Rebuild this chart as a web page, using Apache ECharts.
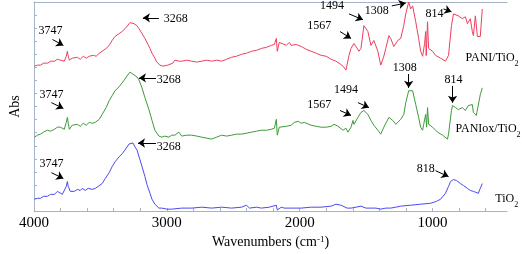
<!DOCTYPE html>
<html><head><meta charset="utf-8">
<script src="https://cdn.jsdelivr.net/npm/echarts@6/dist/echarts.min.js"></script>
<style>html,body{margin:0;padding:0;background:#fff}#c{width:522px;height:254px}</style>
</head><body><div id="c"></div>
<script>
// x: wavenumber (cm-1), y: absorbance (arbitrary, offset spectra)
var redPoints = [[3996,1.109],[3974,1.117],[3951,1.117],[3929,1.132],[3899,1.132],[3876,1.147],[3846,1.147],[3824,1.162],[3801,1.155],[3772,1.147],[3757,1.185],[3749,1.223],[3742,1.185],[3734,1.155],[3712,1.170],[3697,1.155],[3674,1.177],[3652,1.162],[3629,1.185],[3607,1.170],[3584,1.185],[3554,1.192],[3532,1.185],[3509,1.208],[3487,1.223],[3457,1.245],[3434,1.268],[3412,1.306],[3390,1.336],[3360,1.358],[3337,1.374],[3315,1.396],[3300,1.411],[3277,1.442],[3262,1.449],[3247,1.434],[3225,1.419],[3210,1.396],[3187,1.358],[3165,1.321],[3142,1.275],[3127,1.245],[3112,1.208],[3090,1.170],[3075,1.140],[3052,1.117],[3030,1.109],[3015,1.102],[2993,1.117],[2978,1.109],[2955,1.132],[2940,1.155],[2925,1.170],[2910,1.147],[2888,1.147],[2850,1.155],[2813,1.147],[2775,1.140],[2738,1.147],[2700,1.155],[2663,1.147],[2625,1.155],[2588,1.147],[2550,1.162],[2513,1.177],[2476,1.185],[2438,1.200],[2401,1.208],[2363,1.223],[2326,1.230],[2289,1.245],[2251,1.253],[2214,1.268],[2191,1.275],[2176,1.321],[2169,1.223],[2154,1.291],[2139,1.283],[2101,1.268],[2079,1.291],[2064,1.268],[2026,1.275],[1989,1.260],[1951,1.238],[1914,1.223],[1876,1.208],[1839,1.192],[1801,1.185],[1764,1.162],[1727,1.147],[1704,1.132],[1674,1.109],[1652,1.079],[1629,1.192],[1614,1.245],[1592,1.283],[1577,1.298],[1554,1.223],[1539,1.245],[1517,1.419],[1502,1.411],[1487,1.374],[1464,1.268],[1442,1.306],[1412,1.223],[1390,1.117],[1367,1.185],[1352,1.245],[1329,1.343],[1315,1.321],[1292,1.260],[1262,1.306],[1240,1.321],[1217,1.419],[1202,1.509],[1187,1.570],[1180,1.600],[1165,1.547],[1150,1.570],[1127,1.449],[1105,1.321],[1090,1.223],[1075,1.185],[1067,1.170],[1060,1.283],[1052,1.374],[1048,1.190],[1038,1.449],[1030,1.245],[1015,1.230],[1000,1.223],[978,1.192],[940,1.170],[903,1.147],[880,1.192],[858,1.419],[843,1.509],[828,1.494],[806,1.494],[776,1.472],[753,1.487],[738,1.434],[716,1.472],[701,1.374],[693,1.343],[678,1.494],[663,1.336],[641,1.336],[626,1.547]];
var greenPoints = [[3996,0.566],[3974,0.581],[3951,0.589],[3929,0.604],[3899,0.619],[3876,0.611],[3846,0.626],[3824,0.642],[3801,0.642],[3772,0.626],[3757,0.679],[3749,0.717],[3742,0.672],[3734,0.626],[3712,0.657],[3697,0.642],[3674,0.664],[3652,0.649],[3629,0.672],[3607,0.657],[3584,0.679],[3562,0.672],[3539,0.679],[3509,0.702],[3487,0.740],[3457,0.792],[3434,0.845],[3412,0.883],[3390,0.921],[3360,0.951],[3337,0.981],[3315,1.011],[3300,1.034],[3277,1.064],[3262,1.057],[3247,1.042],[3225,1.026],[3210,1.004],[3187,0.943],[3165,0.868],[3135,0.777],[3112,0.694],[3090,0.619],[3060,0.574],[3038,0.566],[3015,0.574],[2985,0.566],[2963,0.581],[2940,0.581],[2910,0.604],[2888,0.574],[2850,0.581],[2813,0.581],[2775,0.574],[2738,0.566],[2700,0.558],[2663,0.551],[2625,0.566],[2588,0.581],[2550,0.574],[2513,0.581],[2476,0.589],[2438,0.589],[2401,0.596],[2363,0.604],[2326,0.611],[2289,0.619],[2251,0.619],[2214,0.626],[2191,0.634],[2176,0.702],[2169,0.581],[2154,0.642],[2139,0.657],[2101,0.649],[2064,0.657],[2041,0.679],[2011,0.687],[1989,0.672],[1966,0.679],[1914,0.657],[1876,0.649],[1839,0.642],[1801,0.642],[1764,0.649],[1742,0.664],[1712,0.649],[1674,0.619],[1652,0.634],[1637,0.604],[1614,0.642],[1599,0.694],[1592,0.664],[1562,0.717],[1539,0.755],[1517,0.770],[1487,0.740],[1464,0.694],[1442,0.657],[1412,0.619],[1390,0.589],[1367,0.642],[1329,0.717],[1300,0.694],[1277,0.664],[1240,0.702],[1217,0.740],[1202,0.830],[1187,0.891],[1180,0.921],[1165,0.906],[1150,0.921],[1127,0.815],[1105,0.717],[1090,0.642],[1075,0.619],[1067,0.664],[1052,0.740],[1045,0.642],[1038,0.792],[1030,0.664],[1000,0.642],[963,0.604],[925,0.581],[888,0.551],[880,0.589],[858,0.770],[850,0.808],[828,0.792],[806,0.777],[776,0.792],[753,0.770],[731,0.808],[701,0.815],[693,0.755],[671,0.732],[656,0.740],[641,0.891],[626,0.943]];
var bluePoints = [[3996,0.091],[3974,0.098],[3951,0.098],[3929,0.113],[3899,0.113],[3876,0.128],[3861,0.136],[3846,0.128],[3824,0.151],[3809,0.143],[3787,0.128],[3772,0.136],[3757,0.189],[3749,0.226],[3742,0.189],[3727,0.151],[3712,0.166],[3697,0.151],[3674,0.166],[3652,0.158],[3637,0.174],[3614,0.158],[3592,0.174],[3562,0.166],[3539,0.174],[3517,0.189],[3487,0.211],[3464,0.249],[3434,0.294],[3412,0.340],[3390,0.377],[3360,0.415],[3337,0.438],[3315,0.468],[3300,0.483],[3285,0.513],[3270,0.528],[3255,0.521],[3240,0.491],[3225,0.468],[3202,0.392],[3187,0.340],[3165,0.264],[3150,0.204],[3127,0.136],[3112,0.091],[3090,0.053],[3075,0.038],[3060,0.023],[3038,0.023],[3000,0.015],[2963,0.015],[2888,0.023],[2813,0.023],[2738,0.030],[2663,0.023],[2588,0.030],[2513,0.023],[2438,0.030],[2401,0.045],[2378,0.023],[2363,0.023],[2326,0.030],[2289,0.023],[2229,0.030],[2176,0.045],[2169,0.008],[2139,0.030],[2116,0.023],[2064,0.023],[1989,0.023],[1914,0.030],[1839,0.030],[1764,0.038],[1727,0.053],[1712,0.068],[1689,0.045],[1674,0.038],[1644,0.023],[1614,0.023],[1577,0.030],[1539,0.038],[1502,0.023],[1464,0.023],[1427,0.023],[1390,0.015],[1352,0.023],[1315,0.023],[1277,0.030],[1240,0.038],[1165,0.045],[1090,0.053],[1015,0.060],[970,0.075],[940,0.091],[903,0.136],[880,0.189],[865,0.226],[850,0.234],[843,0.242],[820,0.234],[791,0.211],[768,0.196],[738,0.174],[716,0.158],[693,0.151],[656,0.136],[641,0.174],[626,0.211]];

var xTickValues = [4000,3800,3600,3400,3200,3000,2800,2600,2400,2200,2000,1800,1600,1400,1200,1000,800,600];
var xLabelValues = [4000,3000,2000,1000];

// peak annotations: label text, label anchor, arrow tail, arrow head (data coordinates)
var redNotes = [
  {t:'3747', at:[3876,1.381], from:[3861,1.313], to:[3779,1.268]},
  {t:'3268', at:[2933,1.472], from:[3060,1.479], to:[3180,1.479]},
  {t:'1567', at:[1854,1.419], from:[1697,1.374], to:[1614,1.321]},
  {t:'1494', at:[1757,1.570], from:[1629,1.509], to:[1524,1.464]},
  {t:'1308', at:[1420,1.532], from:[1307,1.570], to:[1202,1.592]},
  {t:'814',  at:[985,1.509],  from:[918,1.547],  to:[858,1.525]}
];
var greenNotes = [
  {t:'3747', at:[3869,0.891], from:[3869,0.830], to:[3779,0.785]},
  {t:'3268', at:[2985,1.004], from:[3082,1.019], to:[3210,1.019]},
  {t:'1567', at:[1854,0.815], from:[1697,0.770], to:[1614,0.732]},
  {t:'1494', at:[1652,0.928], from:[1562,0.830], to:[1479,0.792]},
  {t:'1308', at:[1210,1.094], from:[1180,1.049], to:[1180,0.943]},
  {t:'814',  at:[843,1.004],  from:[850,0.958],  to:[850,0.830]}
];
var blueNotes = [
  {t:'3747', at:[3869,0.362], from:[3869,0.294], to:[3779,0.249]},
  {t:'3268', at:[2985,0.491], from:[3082,0.521], to:[3217,0.521]},
  {t:'818',  at:[1052,0.325], from:[978,0.309],  to:[880,0.264]}
];
var seriesNames = ['PANI/TiO2','PANIox/TiO2','TiO2'];
var nameLabels = [
  {rich:'{a|PANI/TiO}{s|2}', at:[753,1.170]},
  {rich:'{a|PANIox/TiO}{s|2}', at:[828,0.626]},
  {rich:'{a|TiO}{s|2}', at:[528,0.091]}
];

var FONT = 'Liberation Serif';
var AX = '#a3b4c8';

function buildSeries(name, pts, color, notes, nameLab){
  var mp = notes.map(function(n){
    return {coord:n.at, value:n.t, label:{formatter:n.t}};
  });
  mp.push({coord:nameLab.at, value:'', label:{formatter:nameLab.rich, position:'right', distance:0}});
  return {
    name:name, type:'line', data:pts, showSymbol:false, symbol:'none',
    lineStyle:{color:color, width:1}, itemStyle:{color:color},
    animation:false, silent:true, clip:false,
    markPoint:{
      symbol:'circle', symbolSize:0, silent:true, animation:false,
      label:{show:true, position:'inside', color:'#000', fontFamily:FONT, fontSize:12,
        rich:{
          a:{fontFamily:FONT, fontSize:12, color:'#000', lineHeight:13, verticalAlign:'top'},
          s:{fontFamily:FONT, fontSize:8, color:'#000', lineHeight:8, padding:[8,0,0,0], verticalAlign:'top'}
        }},
      data: mp
    },
    markLine:{
      silent:true, animation:false, symbol:['none','arrow'], symbolSize:7,
      lineStyle:{color:'#000', width:1, type:'solid'},
      itemStyle:{color:'#000'},
      label:{show:false},
      data: notes.map(function(n){ return [{coord:n.from},{coord:n.to}]; })
    }
  };
}

var chart = echarts.init(document.getElementById('c'), null, {renderer:'canvas'});
chart.setOption({
  backgroundColor:'#fff',
  animation:false,
  textStyle:{fontFamily:FONT},
  grid:{left:31, right:15, top:2, bottom:39, containLabel:false},
  xAxis:[{
    type:'value', inverse:true, min:440, max:4000,
    name:'Wavenumbers (cm{sup|-1})', nameLocation:'middle', nameGap:20,
    nameTextStyle:{color:'#000', fontFamily:FONT, fontSize:14,
      rich:{sup:{fontFamily:FONT, fontSize:9, color:'#000', verticalAlign:'top', lineHeight:9}}},
    axisLine:{show:true, onZero:false, lineStyle:{color:AX, width:1}},
    axisTick:{show:true, inside:true, length:3, customValues:xTickValues, lineStyle:{color:AX}},
    axisLabel:{show:true, customValues:xLabelValues, margin:4, color:'#000', fontFamily:FONT, fontSize:15,
      formatter:function(v){return String(v);}},
    splitLine:{show:false}
  },{
    type:'value', inverse:true, min:440, max:4000, position:'top',
    axisLine:{show:true, onZero:false, lineStyle:{color:AX, width:1}},
    axisTick:{show:false}, axisLabel:{show:false}, splitLine:{show:false}
  }],
  yAxis:{
    type:'value', min:0, max:1.6, interval:0.1,
    name:'Abs', nameLocation:'middle', nameGap:12, nameRotate:90,
    nameTextStyle:{color:'#000', fontFamily:FONT, fontSize:14},
    axisLine:{show:true, onZero:false, lineStyle:{color:AX, width:1}},
    axisTick:{show:true, inside:true, length:3, lineStyle:{color:AX}},
    axisLabel:{show:false}, splitLine:{show:false}
  },
  series:[
    buildSeries(seriesNames[0], redPoints, '#ef3f5f', redNotes, nameLabels[0]),
    buildSeries(seriesNames[1], greenPoints, '#3f9a3a', greenNotes, nameLabels[1]),
    buildSeries(seriesNames[2], bluePoints, '#4a4af2', blueNotes, nameLabels[2])
  ]
});
</script></body></html>
